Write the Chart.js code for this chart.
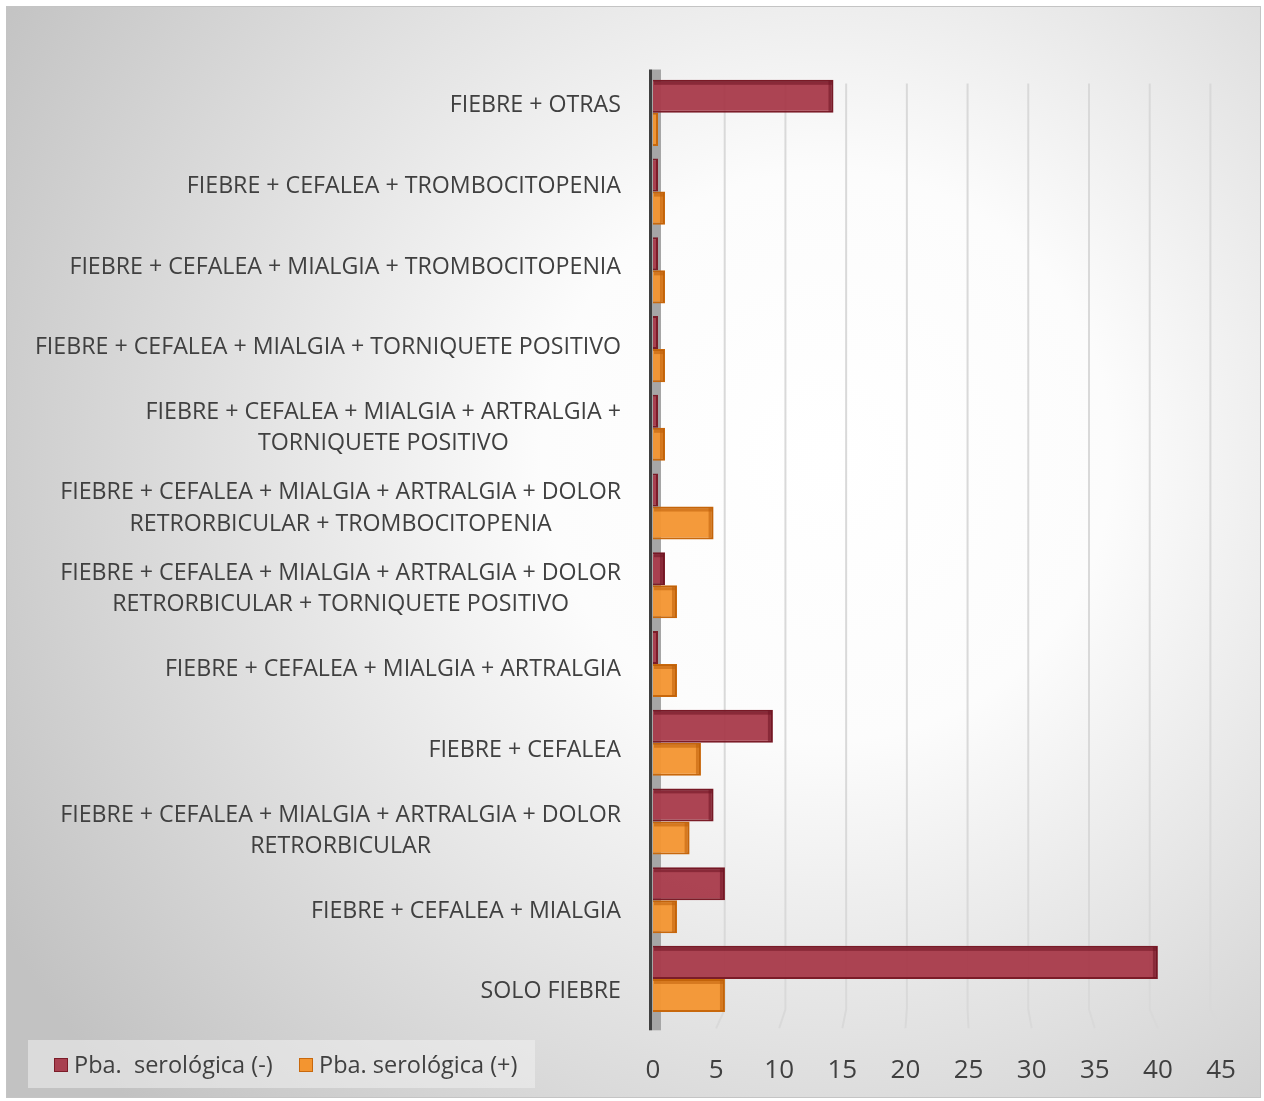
<!DOCTYPE html>
<html lang="es">
<head>
  <meta charset="UTF-8">
  <title>Síntomas y prueba serológica</title>
  <script src="https://cdn.jsdelivr.net/npm/chart.js"></script>
  <style>
    body {
      margin: 0;
      background: #ffffff;
      font-family: 'Open Sans', sans-serif;
    }
    #marco {
      position: absolute;
      left: 6px;
      top: 6px;
      width: 1255px;
      height: 1092px;
      border: 1px solid #c4c4c4;
      box-sizing: border-box;
    }
    #leyenda {
      position: absolute;
      left: 28px;
      top: 1040px;
      width: 507px;
      height: 48px;
      background: rgba(240,240,240,0.55);
      color: #404040;
      font-size: 23.5px;
      line-height: 48px;
      white-space: pre;
    }
    .item { position: absolute; top: 0; }
    .cuadro {
      display: inline-block;
      width: 12px;
      height: 12px;
      vertical-align: middle;
      margin-right: 6px;
      position: relative;
      top: -2px;
    }
  </style>
</head>
<body>
  <div id="marco"><canvas id="grafico"></canvas></div>
  <div id="leyenda">
    <span class="item" style="left:26px"><span class="cuadro" style="background:#a84050;border:1px solid #7b1c28"></span>Pba.  serológica (-)</span>
    <span class="item" style="left:271px"><span class="cuadro" style="background:#f39530;border:1px solid #c8680c"></span>Pba. serológica (+)</span>
  </div>

  <script>
    // categorias (de arriba a abajo), cada una con sus lineas
    const categorias = [
      ["FIEBRE + OTRAS"],
      ["FIEBRE + CEFALEA + TROMBOCITOPENIA"],
      ["FIEBRE + CEFALEA + MIALGIA + TROMBOCITOPENIA"],
      ["FIEBRE + CEFALEA + MIALGIA + TORNIQUETE POSITIVO"],
      ["FIEBRE + CEFALEA + MIALGIA + ARTRALGIA +", "TORNIQUETE POSITIVO"],
      ["FIEBRE + CEFALEA + MIALGIA + ARTRALGIA + DOLOR", "RETRORBICULAR + TROMBOCITOPENIA"],
      ["FIEBRE + CEFALEA + MIALGIA + ARTRALGIA + DOLOR", "RETRORBICULAR + TORNIQUETE POSITIVO"],
      ["FIEBRE + CEFALEA + MIALGIA + ARTRALGIA"],
      ["FIEBRE + CEFALEA"],
      ["FIEBRE + CEFALEA + MIALGIA + ARTRALGIA + DOLOR", "RETRORBICULAR"],
      ["FIEBRE + CEFALEA + MIALGIA"],
      ["SOLO FIEBRE"]
    ];
    const serologiaNegativa = [14.3, 0, 0, 0, 0, 0, 0.95, 0, 9.5, 4.8, 5.7, 40];
    const serologiaPositiva = [0, 0.95, 0.95, 0.95, 0.95, 4.8, 1.9, 1.9, 3.8, 2.9, 1.9, 5.7];
    const ejeMin = 0, ejeMax = 45, ejePaso = 5;

    const fondo = {
      id: 'fondo',
      beforeDraw(chart) {
        const c = chart.ctx;
        const g = c.createRadialGradient(820, 450, 0, 820, 450, 950);
        g.addColorStop(0, '#ffffff');
        g.addColorStop(0.3, '#fcfcfc');
        g.addColorStop(1, '#c2c2c2');
        c.save();
        c.fillStyle = g;
        c.fillRect(0, 0, chart.width, chart.height);
        c.restore();
      }
    };

    // lineas de division con el quiebre del "suelo" 3D y pared del eje
    const pared = {
      id: 'pared',
      beforeDatasetsDraw(chart) {
        const c = chart.ctx;
        const sx = chart.scales.x;
        const x0 = sx.getPixelForValue(0);
        const a = chart.chartArea;
        c.save();
        c.strokeStyle = '#d9d9d9';
        c.lineWidth = 2;
        sx.ticks.forEach(t => {
          if (t.value === 0) return;
          const xf = sx.getPixelForValue(t.value);
          const xb = x0 + 11 + (xf - x0) * 0.962;
          c.beginPath();
          c.moveTo(xb, a.top + 10);
          c.lineTo(xb, a.bottom - 9);
          c.lineTo(xf, a.bottom + 10);
          c.stroke();
        });
        c.fillStyle = '#a6a6a6';
        c.fillRect(x0 - 1, a.top - 4, 9, a.bottom - a.top + 16);
        c.fillStyle = '#3f3f3f';
        c.fillRect(x0 - 4, a.top - 4, 3, a.bottom - a.top + 16);
        c.restore();
      }
    };

    // caras oscuras (arriba y a la derecha) para dar algo de volumen
    const volumen = {
      id: 'volumen',
      afterDatasetsDraw(chart) {
        const c = chart.ctx;
        const oscuro = ['rgba(110,20,35,0.55)', 'rgba(190,95,10,0.55)'];
        c.save();
        chart.data.datasets.forEach((ds, d) => {
          chart.getDatasetMeta(d).data.forEach(bar => {
            const p = bar.getProps(['x', 'y', 'base', 'height'], true);
            const top = p.y - p.height / 2;
            const w = p.x - p.base;
            if (w < 8) return;
            c.fillStyle = oscuro[d];
            c.fillRect(p.base + 1, top + 1, w - 2, 4);
            c.fillRect(p.x - 5, top + 1, 4, p.height - 2);
          });
        });
        c.restore();
      }
    };

    const etiquetas = {
      id: 'etiquetas',
      afterDraw(chart) {
        const c = chart.ctx;
        const y = chart.scales.y;
        c.save();
        c.font = '23.2px "Open Sans"';
        c.fillStyle = '#404040';
        c.textAlign = 'center';
        c.textBaseline = 'middle';
        const derecha = 614;
        categorias.forEach((lineas, i) => {
          const ancho = Math.max(...lineas.map(l => c.measureText(l).width));
          const cx = derecha - ancho / 2;
          const cy = y.getPixelForValue(i) - 7 + 1.8 * i;
          lineas.forEach((l, k) => {
            c.fillText(l, cx, cy + (k - (lineas.length - 1) / 2) * 31.5);
          });
        });
        c.restore();
      }
    };

    new Chart(document.getElementById('grafico'), {
      type: 'bar',
      data: {
        labels: categorias.map(l => l.join(' ')),
        datasets: [
          {
            label: 'Pba.  serológica (-)',
            data: serologiaNegativa,
            backgroundColor: 'rgba(168,58,74,0.95)',
            borderColor: '#7b1c28',
            borderWidth: 2,
            minBarLength: 5
          },
          {
            label: 'Pba. serológica (+)',
            data: serologiaPositiva,
            backgroundColor: 'rgba(243,149,48,0.95)',
            borderColor: '#c8680c',
            borderWidth: 2,
            minBarLength: 5
          }
        ]
      },
      options: {
        indexAxis: 'y',
        responsive: true,
        maintainAspectRatio: false,
        animation: false,
        categoryPercentage: 0.84,
        barPercentage: 1,
        layout: { padding: { left: 646, right: 39, top: 66.5, bottom: 0 } },
        plugins: { legend: { display: false }, tooltip: { enabled: false } },
        scales: {
          x: {
            min: ejeMin,
            max: ejeMax,
            ticks: {
              stepSize: ejePaso,
              padding: 37,
              color: '#404040',
              font: { family: 'Open Sans', size: 26 }
            },
            grid: { display: false, drawTicks: false },
            border: { display: false },
            afterFit(scale) {
              scale.height = 78.7;
              scale.paddingLeft = 0;
              scale.paddingRight = 0;
            }
          },
          y: {
            display: false,
            grid: { display: false }
          }
        }
      },
      plugins: [fondo, pared, volumen, etiquetas]
    });
  </script>
</body>
</html>
